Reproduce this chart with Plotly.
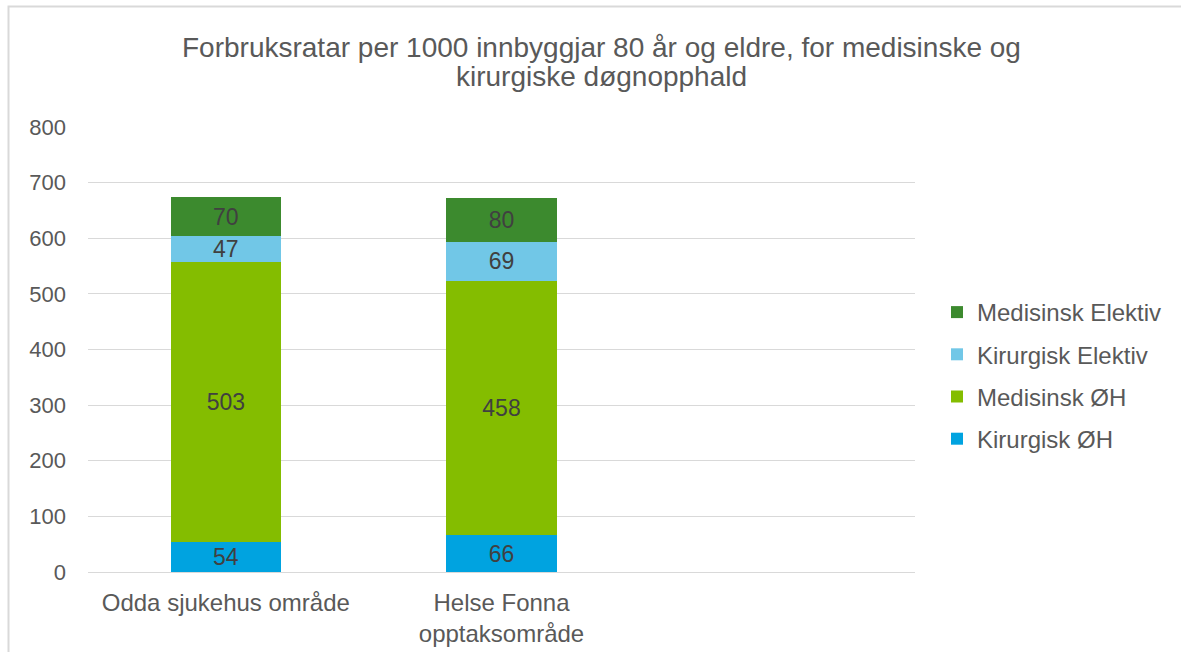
import plotly.graph_objects as go

categories = ["Odda sjukehus område", "Helse Fonna<br>opptaksområde"]
series_names = ["Kirurgisk ØH", "Medisinsk ØH", "Kirurgisk Elektiv", "Medisinsk Elektiv"]
kirurgisk_oh = [54, 66]
medisinsk_oh = [503, 458]
kirurgisk_elektiv = [47, 69]
medisinsk_elektiv = [70, 80]
colors = ["#00A3E0", "#84BD00", "#71C7E7", "#3C8A2E"]
y_ticks = [0, 100, 200, 300, 400, 500, 600, 700, 800]
title_lines = ["Forbruksratar per 1000 innbyggjar 80 år og eldre, for medisinske og",
               "kirurgiske døgnopphald"]

values = [kirurgisk_oh, medisinsk_oh, kirurgisk_elektiv, medisinsk_elektiv]

W, H = 1181, 652
L, R, T, B = 88, 266, 127, 80
pw, ph = W - L - R, H - T - B
FONT = "Liberation Sans, Arial"

fig = go.Figure()
for i, (name, vals, col) in enumerate(zip(series_names, values, colors)):
    fig.add_trace(go.Bar(
        name=name, x=categories, y=vals, marker=dict(color=col, line=dict(width=0)),
        text=[str(v) for v in vals], textposition="inside", insidetextanchor="middle",
        textangle=0, constraintext="none",
        textfont=dict(size=23, color="#404040", family=FONT),
        legendgroup=name, legendrank=100 - i, cliponaxis=False,
    ))

fig.update_layout(
    width=W, height=H,
    barmode="stack", bargap=0.6,
    paper_bgcolor="white", plot_bgcolor="white",
    margin=dict(l=L, r=R, t=T, b=B, autoexpand=False),
    font=dict(family=FONT, color="#595959", size=23),
    legend=dict(x=(937 - L) / pw, xanchor="left", y=(572 - 290) / ph, yanchor="top",
                traceorder="grouped", tracegroupgap=8,
                font=dict(size=24, color="#595959"), bgcolor="rgba(0,0,0,0)"),
    showlegend=True,
)
for k, (line, yc) in enumerate(zip(title_lines, [47, 77])):
    fig.add_annotation(text=line, xref="paper", yref="paper",
                       x=(601 - L) / pw, y=(572 - yc) / ph, xanchor="center", yanchor="middle",
                       showarrow=False, font=dict(size=28, color="#595959", family=FONT))

fig.update_xaxes(type="category", range=[-0.5, 2.5], showline=False, ticks="", automargin=False,
                 tickfont=dict(size=24, color="#595959"), showgrid=False, ticklabelstandoff=14)
fig.update_yaxes(range=[0, 800], tickvals=y_ticks, showgrid=True, gridcolor="#D9D9D9", automargin=False,
                 gridwidth=1, zeroline=True, zerolinecolor="#D9D9D9", zerolinewidth=1,
                 tickfont=dict(size=22, color="#595959"), ticks="", ticklabelstandoff=21)

fig.add_shape(type="rect", xref="paper", yref="paper",
              x0=(8.5 - L) / pw, x1=(1200 - L) / pw,
              y0=(572 - 700) / ph, y1=(572 - 6.5) / ph,
              line=dict(color="#D9D9D9", width=2), fillcolor="rgba(0,0,0,0)", layer="below")

fig.write_html("out.html", config={"displayModeBar": False},
               post_script="document.body.style.margin='0';document.body.style.overflow='hidden';")
